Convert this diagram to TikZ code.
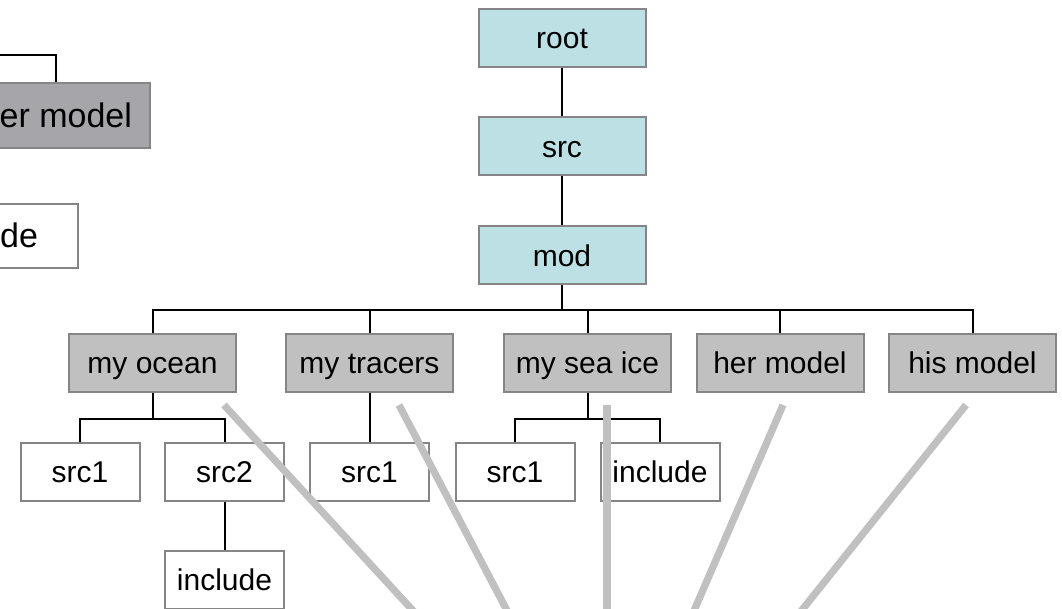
\documentclass[tikz,border=0pt]{standalone}
\usepackage{fontspec}
\setmainfont{Liberation Sans}
\definecolor{cyanbox}{HTML}{BCE0E3}
\definecolor{graybox}{HTML}{C0C0C0}
\definecolor{darkbox}{HTML}{A6A6AA}
\definecolor{boxedge}{HTML}{858585}
\definecolor{pointer}{HTML}{C0C0C0}
\tikzset{
  basebox/.style={draw=boxedge, line width=1pt, text=black, inner sep=0pt,
    text height=12.3pt, text depth=1.3pt, font=\fontsize{15pt}{18pt}\selectfont},
  topbox/.style={basebox, fill=cyanbox, minimum width=83.5pt, minimum height=29pt},
  modbox/.style={basebox, fill=graybox, minimum width=83.5pt, minimum height=29pt},
  dirbox/.style={basebox, fill=white, minimum width=59.5pt, minimum height=29pt},
  bigmod/.style={basebox, fill=darkbox, font=\fontsize{17pt}{20pt}\selectfont,
    text height=13.6pt, text depth=2pt, minimum height=32.5pt, inner xsep=9pt},
  bigdir/.style={basebox, fill=white, font=\fontsize{17pt}{20pt}\selectfont,
    text height=13.6pt, text depth=2pt, minimum height=32pt, inner xsep=20pt},
  link/.style={draw=black, line width=1pt},
  pointline/.style={draw=pointer, line width=3.6pt}
}
\begin{document}
\begin{tikzpicture}[x=0.5pt,y=-0.5pt]
\useasboundingbox (0,0) rectangle (1062,609);
\clip (0,0) rectangle (1062,609);
\fill[white] (0,0) rectangle (1062,609);

% left cut-off fragments
\node[bigmod, anchor=east] (her0) at (151,115.5) {her model};
\node[bigdir, anchor=east] (inc0) at (79,236) {include};
\coordinate (her0up) at (-40,55);
\draw[link] (her0.north) |- (her0up);

% top chain
\node[topbox] (root) at (562,38) {root};
\node[topbox] (src) at (562,146.5) {src};
\node[topbox] (mod) at (562,255.5) {mod};

% model row
\node[modbox] (ocean) at (152.5,363) {my ocean};
\node[modbox] (tracers) at (369.5,363) {my tracers};
\node[modbox] (seaice) at (587.5,363) {my sea ice};
\node[modbox] (hermod) at (780,363) {her model};
\node[modbox] (hismod) at (972.5,363) {his model};

% directory row
\node[dirbox] (osrc1) at (80,472) {src1};
\node[dirbox] (osrc2) at (224.5,472) {src2};
\node[dirbox] (tsrc1) at (369.5,472) {src1};
\node[dirbox] (ssrc1) at (515,472) {src1};
\node[dirbox] (sinc) at (660,472) {include};
\node[dirbox] (oinc) at (224.5,580) {include};

% tree connectors
\draw[link] (root) -- (src);
\draw[link] (src) -- (mod);
\foreach \c in {ocean,tracers,seaice,hermod,hismod}
  \draw[link] (mod.south) -- ++(0,25) -| (\c.north);
\foreach \c in {osrc1,osrc2}
  \draw[link] (ocean.south) -- ++(0,26) -| (\c.north);
\foreach \c in {ssrc1,sinc}
  \draw[link] (seaice.south) -- ++(0,26) -| (\c.north);
\draw[link] (tracers.south) -- (tsrc1.north);
\draw[link] (osrc2.south) -- (oinc.north);

% grey pointer lines
\coordinate (p1a) at (224,405);   \coordinate (p1b) at (421.6,620);
\coordinate (p2a) at (399,405);   \coordinate (p2b) at (512,620);
\coordinate (p3a) at (607,405);   \coordinate (p3b) at (607,620);
\coordinate (p4a) at (783,405);   \coordinate (p4b) at (690,620);
\coordinate (p5a) at (966,405);   \coordinate (p5b) at (794,620);
\foreach \i in {1,...,5}
  \draw[pointline] (p\i a) -- (p\i b);
\end{tikzpicture}
\end{document}
